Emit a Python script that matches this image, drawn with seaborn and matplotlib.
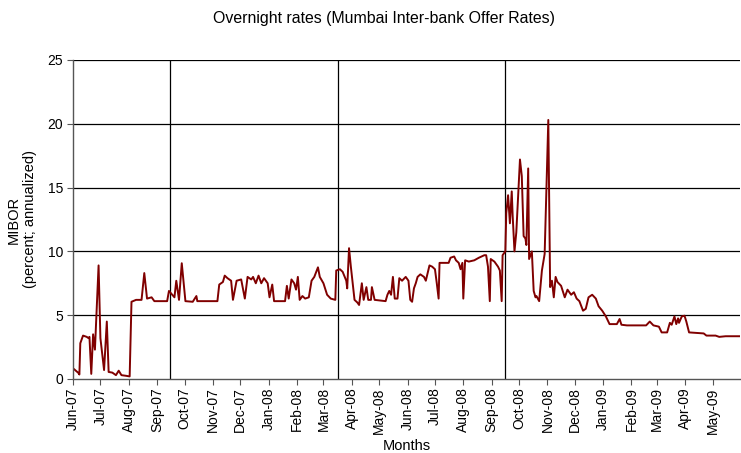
import pandas as pd
import matplotlib.pyplot as plt
import matplotlib.dates as mdates
import seaborn as sns

# daily MIBOR overnight rate (vertices of the line)
dates = [
    '2007-06-01', '2007-06-07', '2007-06-08', '2007-06-09', '2007-06-12', '2007-06-16',
    '2007-06-18', '2007-06-19', '2007-06-21', '2007-06-23', '2007-06-25', '2007-06-29',
    '2007-07-01', '2007-07-05', '2007-07-08', '2007-07-10', '2007-07-14', '2007-07-18',
    '2007-07-21', '2007-07-24', '2007-07-29', '2007-08-02', '2007-08-04', '2007-08-09',
    '2007-08-15', '2007-08-18', '2007-08-21', '2007-08-26', '2007-08-29', '2007-09-12',
    '2007-09-14', '2007-09-20', '2007-09-22', '2007-09-25', '2007-09-28', '2007-10-02',
    '2007-10-10', '2007-10-14', '2007-10-15', '2007-11-06', '2007-11-08', '2007-11-12',
    '2007-11-14', '2007-11-17', '2007-11-21', '2007-11-23', '2007-11-27', '2007-12-02',
    '2007-12-06', '2007-12-09', '2007-12-13', '2007-12-15', '2007-12-18', '2007-12-21',
    '2007-12-24', '2007-12-27', '2007-12-31', '2008-01-02', '2008-01-05', '2008-01-07',
    '2008-01-19', '2008-01-21', '2008-01-23', '2008-01-26', '2008-01-29', '2008-01-31',
    '2008-02-02', '2008-02-04', '2008-02-07', '2008-02-10', '2008-02-14', '2008-02-17',
    '2008-02-20', '2008-02-24', '2008-02-26', '2008-03-01', '2008-03-05', '2008-03-09',
    '2008-03-14', '2008-03-15', '2008-03-19', '2008-03-22', '2008-03-26', '2008-03-27',
    '2008-03-29', '2008-03-31', '2008-04-04', '2008-04-07', '2008-04-09', '2008-04-12',
    '2008-04-14', '2008-04-17', '2008-04-19', '2008-04-22', '2008-04-23', '2008-04-26',
    '2008-05-08', '2008-05-10', '2008-05-12', '2008-05-14', '2008-05-16', '2008-05-18',
    '2008-05-21', '2008-05-23', '2008-05-26', '2008-05-30', '2008-06-02', '2008-06-04',
    '2008-06-06', '2008-06-08', '2008-06-10', '2008-06-12', '2008-06-15', '2008-06-19',
    '2008-06-21', '2008-06-23', '2008-06-25', '2008-06-28', '2008-07-01', '2008-07-03',
    '2008-07-05', '2008-07-06', '2008-07-13', '2008-07-16', '2008-07-18', '2008-07-22',
    '2008-07-24', '2008-07-27', '2008-07-29', '2008-07-31', '2008-08-01', '2008-08-03',
    '2008-08-07', '2008-08-13', '2008-08-18', '2008-08-24', '2008-08-26', '2008-08-28',
    '2008-08-30', '2008-08-31', '2008-09-04', '2008-09-08', '2008-09-10', '2008-09-12',
    '2008-09-13', '2008-09-16', '2008-09-17', '2008-09-19', '2008-09-21', '2008-09-23',
    '2008-09-24', '2008-09-26', '2008-09-28', '2008-10-02', '2008-10-04', '2008-10-06',
    '2008-10-08', '2008-10-09', '2008-10-11', '2008-10-12', '2008-10-15', '2008-10-17',
    '2008-10-19', '2008-10-20', '2008-10-23', '2008-10-26', '2008-10-29', '2008-11-02',
    '2008-11-04', '2008-11-06', '2008-11-08', '2008-11-10', '2008-11-12', '2008-11-16',
    '2008-11-20', '2008-11-23', '2008-11-27', '2008-11-30', '2008-12-03', '2008-12-06',
    '2008-12-10', '2008-12-13', '2008-12-16', '2008-12-20', '2008-12-24', '2008-12-27',
    '2008-12-31', '2009-01-04', '2009-01-08', '2009-01-16', '2009-01-19', '2009-01-21',
    '2009-01-27', '2009-02-17', '2009-02-21', '2009-02-25', '2009-03-03', '2009-03-06',
    '2009-03-12', '2009-03-15', '2009-03-17', '2009-03-20', '2009-03-22', '2009-03-24',
    '2009-03-25', '2009-03-28', '2009-03-31', '2009-04-02', '2009-04-05', '2009-04-21',
    '2009-04-24', '2009-05-04', '2009-05-08', '2009-05-15', '2009-05-31',
]
mibor = [
    0.84, 0.47, 0.35, 2.8, 3.4, 3.3,
    3.2, 3.3, 0.4, 3.5, 2.3, 8.9,
    3.2, 0.7, 4.5, 0.55, 0.5, 0.3,
    0.65, 0.3, 0.25, 0.2, 6.05, 6.2,
    6.2, 8.3, 6.3, 6.4, 6.1, 6.1,
    6.9, 6.4, 7.7, 6.2, 9.07, 6.1,
    6.05, 6.5, 6.1, 6.1, 7.4, 7.6,
    8.1, 7.9, 7.7, 6.2, 7.7, 7.8,
    6.3, 8.0, 7.8, 8.0, 7.5, 8.1,
    7.5, 7.9, 7.5, 6.4, 7.4, 6.1,
    6.1, 7.3, 6.3, 7.8, 7.5, 7.0,
    8.0, 6.2, 6.5, 6.3, 6.4, 7.7,
    8.0, 8.75, 8.0, 7.5, 6.6, 6.3,
    6.2, 8.5, 8.6, 8.4, 7.7, 7.1,
    10.25, 8.8, 6.2, 6.0, 5.8, 7.5,
    6.2, 7.2, 6.2, 6.2, 7.2, 6.2,
    6.1, 6.6, 6.9, 6.6, 8.0, 6.3,
    6.3, 7.9, 7.7, 8.0, 7.7, 6.2,
    6.05, 7.1, 7.5, 8.0, 8.2, 8.0,
    7.7, 8.3, 8.9, 8.8, 8.6, 7.5,
    6.3, 9.1, 9.1, 9.1, 9.5, 9.6,
    9.3, 9.1, 8.6, 9.1, 6.3, 9.3,
    9.2, 9.3, 9.5, 9.7, 9.7, 8.8,
    6.1, 9.4, 9.2, 8.8, 8.5, 6.1,
    9.7, 10.0, 13.0, 14.4, 12.2, 14.7,
    12.8, 10.0, 11.5, 17.2, 15.9, 11.2,
    11.0, 10.5, 16.5, 9.4, 10.0, 6.9,
    6.4, 6.5, 6.1, 8.5, 9.8, 20.3,
    7.2, 7.7, 6.4, 8.0, 7.6, 7.3,
    6.4, 7.0, 6.6, 6.8, 6.3, 6.1,
    5.35, 5.5, 6.4, 6.6, 6.3, 5.7,
    5.35, 4.9, 4.3, 4.3, 4.7, 4.25,
    4.2, 4.2, 4.5, 4.2, 4.1, 3.65,
    3.65, 4.4, 4.25, 4.9, 4.3, 4.75,
    4.4, 4.9, 4.96, 4.5, 3.65, 3.57,
    3.4, 3.4, 3.3, 3.35, 3.35,
]
# dates of the three vertical gridlines
vlines = ['2007-09-15', '2008-03-17', '2008-09-16']

df = pd.DataFrame({'Data': pd.to_datetime(dates), 'MIBOR': mibor})

sns.set_style('white')
plt.rcParams['font.family'] = ['Liberation Sans', 'DejaVu Sans']
plt.rcParams['text.color'] = 'black'
plt.rcParams['axes.labelcolor'] = 'black'
plt.rcParams['xtick.labelcolor'] = 'black'
plt.rcParams['ytick.labelcolor'] = 'black'

fig = plt.figure(figsize=(7.41, 4.53), dpi=100)
ax = fig.add_axes([0.0985, 0.1634, 0.9005, 0.7042])

sns.lineplot(data=df, x='Data', y='MIBOR', color='#800000', linewidth=1.4, ax=ax)

for v in vlines:
    ax.axvline(pd.Timestamp(v), color='black', linewidth=0.9, zorder=1)
for h in [5, 10, 15, 20, 25]:
    ax.axhline(h, color='black', linewidth=0.9, zorder=1)

ax.set_xlim(pd.Timestamp('2007-06-01'), pd.Timestamp('2009-05-31'))
ax.set_ylim(0, 25)
ax.set_yticks([0, 5, 10, 15, 20, 25])
ax.xaxis.set_major_locator(mdates.MonthLocator())
ax.xaxis.set_major_formatter(mdates.DateFormatter('%b-%y'))
ax.tick_params(axis='x', rotation=90, labelsize=10, length=4, width=0.8,
               direction='out', bottom=True, color='#555555', pad=2)
ax.tick_params(axis='y', labelsize=10, length=4, width=0.8,
               direction='out', left=True, color='#555555', pad=3)

for s in ['top', 'right']:
    ax.spines[s].set_visible(False)
for s in ['left', 'bottom']:
    ax.spines[s].set_color('#555555')
    ax.spines[s].set_linewidth(1.0)

ax.set_xlabel('Months', fontsize=10.5, labelpad=4)
ax.set_ylabel('MIBOR\n(percent; annualized)', fontsize=10.5, labelpad=8)
fig.text(0.518, 0.96, 'Overnight rates (Mumbai Inter-bank Offer Rates)',
         ha='center', va='center', fontsize=11.4)

fig.savefig('out.png', dpi=100)
